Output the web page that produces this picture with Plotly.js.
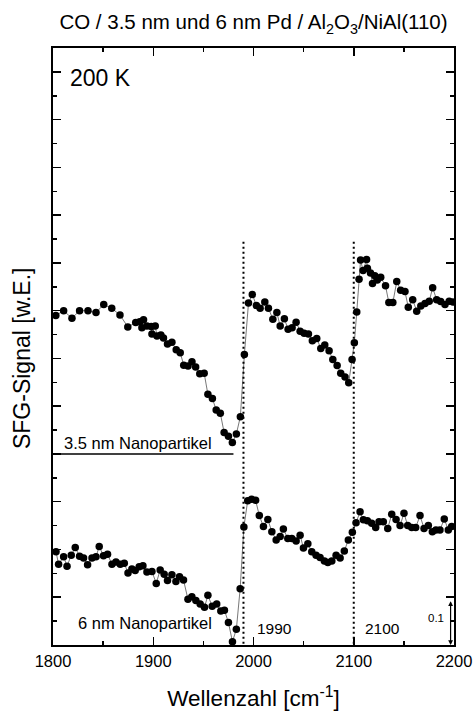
<!DOCTYPE html>
<html>
<head>
<meta charset="utf-8">
<script src="https://cdn.plot.ly/plotly-3.0.1.min.js"></script>
<style>
  html, body { margin: 0; padding: 0; background: #fff; }
  #chart { width: 475px; height: 711px; }
</style>
</head>
<body>
<div id="chart"></div>
<script>
// Upper spectrum: 3.5 nm nanoparticles (offset series)
const wn35 = [1802.8,1810.6,1818.9,1826.5,1834.9,1842.9,1850.6,1858.6,1866.8,1874.6,
  1882.5,1886.5,1888.7,1890.3,1893.7,1898.0,1898.7,1902.0,1903.7,1907.6,
  1910.2,1914.2,1918.6,1922.9,1926.9,1930.4,1934.7,1938.6,1942.3,1946.4,
  1950.8,1954.5,1959.0,1962.8,1966.9,1970.7,1975.0,1978.9,1982.9,1986.9,
  1990.9,1995.0,1998.8,2002.9,2006.6,2011.3,2014.9,2019.3,2023.3,2026.6,
  2030.8,2034.5,2038.5,2042.5,2046.5,2050.5,2054.8,2058.7,2063.1,2067.1,
  2071.1,2075.4,2079.1,2083.4,2087.0,2091.3,2095.0,2098.3,2100.6,2103.0,
  2105.3,2106.8,2109.3,2112.8,2113.6,2116.7,2118.7,2121.0,2123.5,2126.9,
  2131.7,2135.0,2139.0,2142.9,2146.8,2151.1,2154.4,2158.8,2162.8,2166.9,
  2171.1,2175.3,2178.7,2182.7,2186.7,2191.0,2195.2,2199.0];
const sig35 = [0.690,0.700,0.684,0.700,0.700,0.696,0.713,0.705,0.691,0.666,
  0.675,0.677,0.664,0.681,0.668,0.667,0.651,0.668,0.647,0.649,
  0.643,0.630,0.634,0.618,0.612,0.586,0.584,0.593,0.582,0.568,
  0.569,0.525,0.516,0.492,0.485,0.445,0.437,0.424,0.442,0.478,
  0.608,0.716,0.734,0.711,0.705,0.718,0.705,0.682,0.696,0.668,
  0.683,0.661,0.664,0.676,0.657,0.653,0.651,0.637,0.642,0.621,
  0.628,0.616,0.598,0.585,0.569,0.561,0.549,0.598,0.633,0.697,
  0.766,0.806,0.784,0.807,0.789,0.779,0.757,0.773,0.764,0.770,
  0.752,0.717,0.717,0.761,0.743,0.740,0.707,0.723,0.699,0.710,
  0.715,0.720,0.748,0.723,0.719,0.713,0.720,0.718];

// Lower spectrum: 6 nm nanoparticles
const wn6 = [1803.0,1805.6,1810.6,1814.0,1818.2,1822.2,1826.5,1830.5,1834.5,1838.9,
  1842.9,1846.1,1850.4,1854.4,1858.8,1862.8,1867.1,1871.1,1874.8,1878.7,
  1882.0,1886.0,1889.7,1893.7,1898.7,1903.0,1906.9,1910.9,1914.2,1918.6,
  1922.6,1926.2,1930.2,1934.6,1938.5,1942.5,1946.8,1951.1,1954.5,1958.8,
  1963.3,1967.4,1971.0,1975.0,1979.0,1982.9,1986.7,1990.4,1994.2,1998.1,
  2002.1,2005.8,2009.9,2014.3,2018.3,2022.6,2026.6,2029.8,2034.2,2038.2,
  2042.5,2046.5,2049.8,2054.2,2058.1,2062.4,2066.4,2070.7,2074.1,2078.1,
  2082.4,2086.4,2090.6,2094.6,2098.6,2102.3,2106.3,2109.6,2113.6,2117.9,
  2121.9,2125.2,2129.5,2133.9,2137.9,2142.2,2146.2,2150.1,2153.8,2157.8,
  2161.8,2166.1,2170.1,2174.4,2178.4,2182.0,2186.0,2190.3,2194.3,2197.7];
const sig6 = [0.195,0.169,0.185,0.165,0.188,0.204,0.186,0.182,0.168,0.182,
  0.185,0.206,0.187,0.190,0.169,0.174,0.169,0.171,0.151,0.159,
  0.156,0.164,0.166,0.153,0.154,0.129,0.157,0.148,0.135,0.147,
  0.133,0.143,0.136,0.096,0.101,0.093,0.086,0.079,0.104,0.081,
  0.086,0.071,0.073,0.047,0.007,0.033,0.118,0.247,0.302,0.305,
  0.303,0.271,0.248,0.263,0.237,0.220,0.227,0.243,0.223,0.223,
  0.218,0.230,0.203,0.212,0.195,0.188,0.183,0.176,0.173,0.176,
  0.188,0.182,0.197,0.220,0.236,0.256,0.279,0.262,0.260,0.255,
  0.246,0.258,0.258,0.244,0.274,0.263,0.250,0.276,0.250,0.246,
  0.246,0.271,0.244,0.250,0.237,0.241,0.241,0.264,0.241,0.248];

const peakLines = [1990, 2100];
const peakLabels = ['1990', '2100'];
const baseline35 = 0.4;
const scaleBar = 0.1;

const FONT = 'Liberation Sans, Arial, Helvetica, sans-serif';

const markerStyle = { symbol: 'circle', size: 7.5, color: '#000' };
const lineStyle = { color: '#555', width: 0.8 };

const traces = [
  { x: wn35, y: sig35, type: 'scatter', mode: 'lines+markers',
    marker: markerStyle, line: lineStyle, name: '3.5 nm', showlegend: false, cliponaxis: true },
  { x: wn6, y: sig6, type: 'scatter', mode: 'lines+markers',
    marker: markerStyle, line: lineStyle, name: '6 nm', showlegend: false, cliponaxis: false }
];

const shapes = peakLines.map(v => ({
  type: 'line', xref: 'x', yref: 'y', x0: v, x1: v, y0: -0.008, y1: 0.848,
  line: { color: '#000', width: 2, dash: '2px,3px' }
}));
shapes.push({ type: 'line', xref: 'x', yref: 'y', x0: 1800, x1: 1980, y0: baseline35, y1: baseline35,
  line: { color: '#000', width: 1.5 } });

const annotations = [
  { x: -0.0773, y: 0.4807, xref: 'paper', yref: 'paper', text: 'SFG-Signal [w.E.]', textangle: -90,
    showarrow: false, xanchor: 'center', yanchor: 'middle', font: { family: FONT, size: 23, color: '#000' } },
  { x: 1815, y: 1.187, xref: 'x', yref: 'y', text: '200 K', showarrow: false,
    xanchor: 'left', yanchor: 'middle', font: { family: FONT, size: 23, color: '#000' } },
  { x: 1809, y: 0.424, xref: 'x', yref: 'y', text: '3.5 nm Nanopartikel', showarrow: false,
    xanchor: 'left', yanchor: 'middle', font: { family: FONT, size: 16.5, color: '#000' } },
  { x: 1823, y: 0.046, xref: 'x', yref: 'y', text: '6 nm Nanopartikel', showarrow: false,
    xanchor: 'left', yanchor: 'middle', font: { family: FONT, size: 16.5, color: '#000' } },
  { x: 2001.7, y: 0.035, xref: 'x', yref: 'y', text: peakLabels[0], showarrow: false,
    xanchor: 'left', yanchor: 'middle', font: { family: FONT, size: 15.5, color: '#000' } },
  { x: 2109.2, y: 0.035, xref: 'x', yref: 'y', text: peakLabels[1], showarrow: false,
    xanchor: 'left', yanchor: 'middle', font: { family: FONT, size: 15.5, color: '#000' } },
  { x: 2192, y: 0.057, xref: 'x', yref: 'y', text: String(scaleBar), showarrow: false,
    xanchor: 'right', yanchor: 'middle', font: { family: FONT, size: 11.5, color: '#000' } },
  { x: 2196.6, y: 0.0, xref: 'x', yref: 'y', ax: 2196.6, ay: 0.095, axref: 'x', ayref: 'y',
    text: '', showarrow: true, arrowside: 'end+start', arrowhead: 2, arrowsize: 0.8,
    arrowwidth: 1.2, arrowcolor: '#000', startarrowhead: 2, startarrowsize: 0.8 }
];

const layout = {
  width: 475, height: 711,
  margin: { l: 53, r: 21, t: 48, b: 66, pad: 0 },
  paper_bgcolor: '#fff', plot_bgcolor: '#fff',
  font: { family: FONT, color: '#000' },
  title: {
    text: 'CO / 3.5 nm und 6 nm Pd / Al<sub>2</sub>O<sub>3</sub>/NiAl(110)',
    font: { family: FONT, size: 20.5, color: '#000' },
    x: 0.5, xref: 'paper', xanchor: 'center', y: 0.969, yref: 'container', yanchor: 'middle'
  },
  xaxis: {
    range: [1800, 2200], tick0: 1800, dtick: 100,
    ticks: 'inside', ticklen: 8, tickwidth: 1.5, tickcolor: '#000',
    minor: { dtick: 50, ticks: 'inside', ticklen: 4, tickwidth: 1.5, tickcolor: '#000' },
    showline: true, linewidth: 2, linecolor: '#000', mirror: 'ticks',
    showgrid: false, zeroline: false,
    tickfont: { family: FONT, size: 16.5, color: '#000' },
    title: { text: 'Wellenzahl [cm<sup>-1</sup>]', font: { family: FONT, size: 22.5, color: '#000' }, standoff: 22 }
  },
  yaxis: {
    range: [0, 1.25], tick0: 0, dtick: 0.1,
    ticks: 'inside', ticklen: 8, tickwidth: 1.5, tickcolor: '#000',
    minor: { dtick: 0.05, ticks: 'inside', ticklen: 4, tickwidth: 1.5, tickcolor: '#000' },
    showline: true, linewidth: 2, linecolor: '#000', mirror: 'ticks',
    showgrid: false, zeroline: false, showticklabels: false
  },
  shapes: shapes,
  annotations: annotations,
  showlegend: false
};

Plotly.newPlot('chart', traces, layout, { displayModeBar: false, staticPlot: true });
</script>
</body>
</html>
